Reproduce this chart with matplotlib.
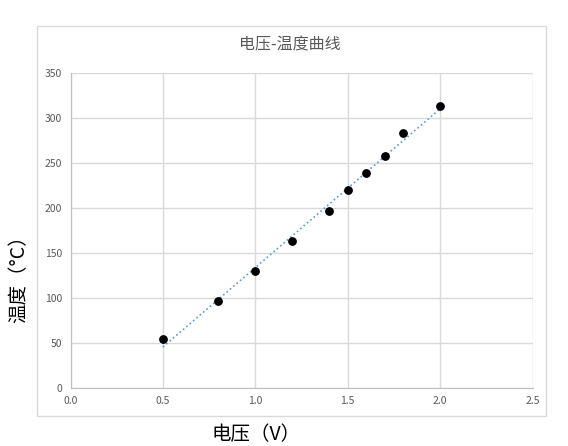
import matplotlib.pyplot as plt
import numpy as np
from matplotlib.patches import Rectangle

plt.rcParams['font.family'] = ['Noto Sans CJK SC', 'DejaVu Sans']

voltage = [0.5, 0.8, 1.0, 1.2, 1.4, 1.5, 1.6, 1.7, 1.8, 2.0]
temperature = [55, 97, 130, 163, 197, 220, 239, 258, 283, 313]
x_ticks = [0.0, 0.5, 1.0, 1.5, 2.0, 2.5]
y_ticks = [0, 50, 100, 150, 200, 250, 300, 350]

W, H = 568, 446
fig = plt.figure(figsize=(W / 100, H / 100), dpi=100)
ax = fig.add_axes([70.5 / W, 1 - 388 / H, (532.5 - 70.5) / W, (388 - 73) / H])

# outer chart border
fig.patches.append(Rectangle((37 / W, 1 - 416 / H), (546 - 37) / W, (416 - 26) / H,
                             transform=fig.transFigure, fill=False,
                             edgecolor='#d9d9d9', linewidth=1))

# linear trendline
k, b = np.polyfit(voltage, temperature, 1)
tx = np.array([voltage[0], voltage[-1]])
ax.plot(tx, k * tx + b, linestyle=':', color='#5b9bd5', linewidth=1.2, zorder=2)

ax.scatter(voltage, temperature, s=28, color='black', zorder=3)

ax.set_xlim(0, 2.5)
ax.set_ylim(0, 350)
ax.set_xticks(x_ticks)
ax.set_yticks(y_ticks)
ax.set_xticklabels([f'{v:.1f}' for v in x_ticks])
ax.grid(True, color='#d9d9d9', linewidth=1)
ax.set_axisbelow(True)
for s in ['top', 'right']:
    ax.spines[s].set_visible(False)
for s in ['left', 'bottom']:
    ax.spines[s].set_color('#bfbfbf')
ax.tick_params(length=0, labelsize=7.5, labelcolor='#595959', pad=6)

fig.text(290 / W, 1 - 45 / H, '电压-温度曲线', ha='center', va='center',
         fontsize=11.5, color='#595959')
fig.text(256 / W, 1 - 435 / H, '电压（V）', ha='center', va='center',
         fontsize=14, color='black')
fig.text(19 / W, 1 - 274 / H, '温度（°C）', ha='center', va='center',
         fontsize=14, color='black', rotation=90)

fig.savefig('out.png', dpi=100, facecolor='white')
